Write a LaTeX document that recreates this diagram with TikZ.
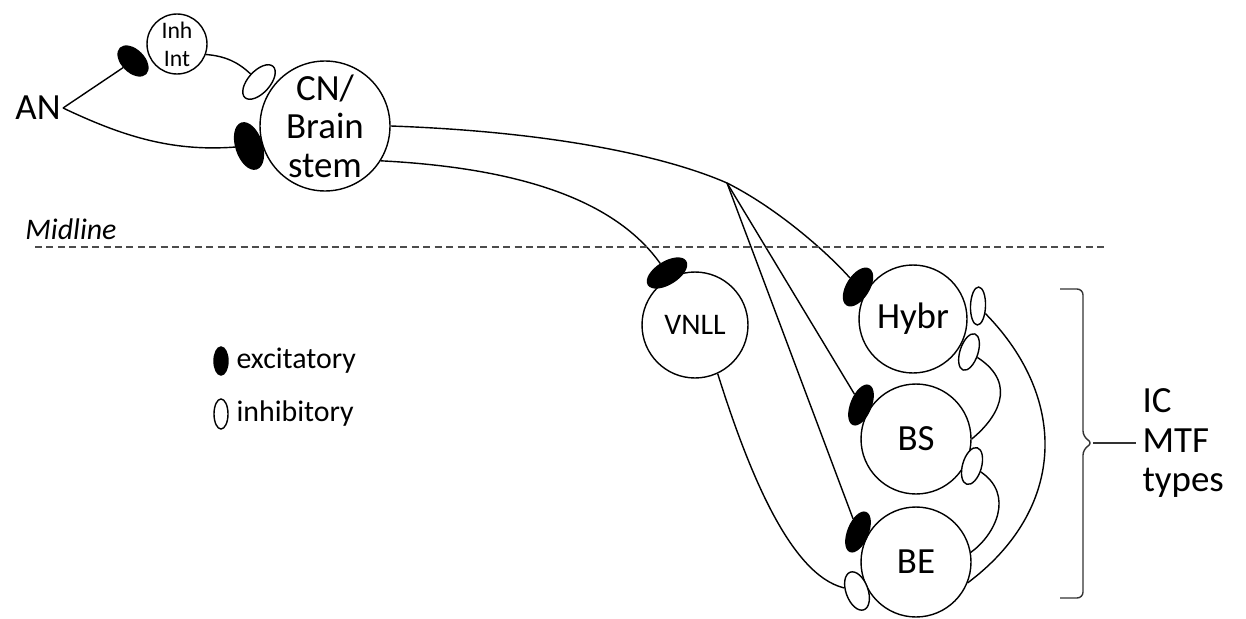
\documentclass[tikz,border=0pt]{standalone}
\usepackage{fontspec}
\setmainfont{Carlito}
\usetikzlibrary{shapes.geometric}

\begin{document}
\begin{tikzpicture}[x=0.02cm,y=-0.02cm,line width=0.8pt,
    cell/.style={circle,draw,inner sep=0pt,align=center,font=\fontsize{21}{22}\selectfont},
    syn/.style={ellipse,draw,inner sep=0pt},
    exc/.style={syn,fill=black},
    inh/.style={syn,fill=white},
    small/.style={font=\fontsize{17}{18}\selectfont}]
    \useasboundingbox (0,0) rectangle (1246,618);
    % cells
    \node[font=\fontsize{21}{22}\selectfont,inner sep=1pt] (an) at (38,108) {AN};
    \node[cell,minimum size=1.2cm,font=\fontsize{13.5}{16}\selectfont] (ii) at (177,44) {Inh\\Int};
    \node[cell,minimum size=2.6cm] (cn) at (325,126) {CN/\\Brain\\stem};
    \node[cell,minimum size=2.12cm,small] (vn) at (695,325) {VNLL};
    \node[cell,minimum size=2.16cm] (hy) at (913,319) {Hybr};
    \node[cell,minimum size=2.2cm] (bs) at (916,439) {BS};
    \node[cell,minimum size=2.2cm] (be) at (916,562) {BE};
    % synapses
    \node[exc,minimum width=0.72cm,minimum height=0.44cm,rotate=-45] (eII) at (133,61) {};
    \node[inh,minimum width=0.84cm,minimum height=0.44cm,rotate=48] (iCN) at (259,82) {};
    \node[exc,minimum width=0.96cm,minimum height=0.52cm,rotate=-72] (eCN) at (249,146) {};
    \node[exc,minimum width=0.88cm,minimum height=0.44cm,rotate=32] (eVN) at (667,273) {};
    \node[exc,minimum width=0.84cm,minimum height=0.44cm,rotate=58] (eHy) at (858,287) {};
    \node[exc,minimum width=0.84cm,minimum height=0.40cm,rotate=68] (eBS) at (861,405) {};
    \node[exc,minimum width=0.84cm,minimum height=0.40cm,rotate=68] (eBE) at (858,532) {};
    \node[inh,minimum width=0.80cm,minimum height=0.44cm,rotate=-70] (iBE) at (857,591) {};
    \node[inh,minimum width=0.76cm,minimum height=0.30cm,rotate=88] (iHy1) at (978,306) {};
    \node[inh,minimum width=0.76cm,minimum height=0.36cm,rotate=72] (iHy2) at (969,352) {};
    \node[inh,minimum width=0.76cm,minimum height=0.38cm,rotate=74] (iBS) at (972,466) {};
    % connections
    \draw (an.east) -- (eII);
    \draw (an.east) .. controls (120,135) and (170,152) .. (eCN);
    \draw (ii.-20) .. controls (225,56) and (238,62) .. (iCN);
    \coordinate (br) at (727,183);
    \draw (cn.east) .. controls (560,132) and (670,158) .. (br);
    \draw (br) .. controls (775,207) and (825,250) .. (eHy);
    \draw (br) -- (eBS);
    \draw (br) -- (eBE);
    \draw (cn.-32) .. controls (520,168) and (615,200) .. (eVN);
    \draw (vn.-65) .. controls (748,470) and (790,575) .. (iBE);
    \draw (be.-22) .. controls (1065,510) and (1070,400) .. (iHy1);
    \draw (bs.east) .. controls (995,420) and (1020,385) .. (iHy2);
    \draw (be.10) .. controls (995,535) and (1015,495) .. (iBS);
    % midline
    \node[small,font=\fontsize{17}{18}\selectfont\itshape] (mid) at (71,229) {Midline};
    \draw[dash pattern=on 4pt off 2.5pt,line width=1.1pt,black!70] (35,247) -- (1108,247);
    % legend
    \node[exc,minimum width=0.56cm,minimum height=0.28cm,rotate=90] (lexc) at (221,361) {};
    \node[small,anchor=west] (texc) at (230,361) {excitatory};
    \node[inh,minimum width=0.60cm,minimum height=0.28cm,rotate=90] (linh) at (221,414) {};
    \node[small,anchor=west] (tinh) at (230,414) {inhibitory};
    % brace
    \draw[rounded corners=0.12cm,black!80] (1060,289) -- (1083,289) -- (1083,437) -- (1093,443) -- (1083,449) -- (1083,598) -- (1060,598);
    \coordinate (tip) at (1093,443);
    \node[anchor=west,align=left,font=\fontsize{21}{22.7}\selectfont] (ic) at (1136,443) {IC\\MTF\\types};
    \draw[black!80] (tip) -- (ic.west);
\end{tikzpicture}
\end{document}
